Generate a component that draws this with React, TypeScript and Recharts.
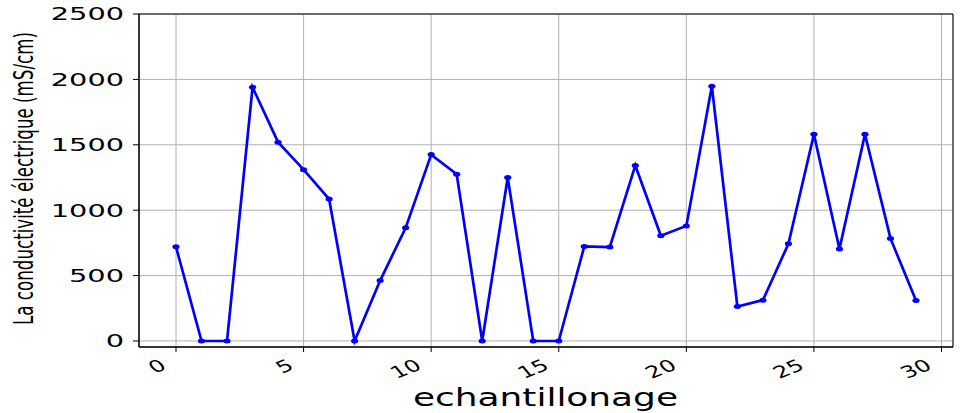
import { LineChart, Line, XAxis, YAxis, CartesianGrid, ReferenceArea } from 'recharts';

// sample index (x) and conductivity readings (y)
const samples = [0, 1, 2, 3, 4, 5, 6, 7, 8, 9, 10, 11, 12, 13, 14, 15, 16, 17, 18, 19, 20, 21, 22, 23, 24, 25, 26, 27, 28, 29];
const conductivity = [720, 0, 0, 1940, 1520, 1310, 1085, 0, 462, 865, 1425, 1275, 0, 1250, 0, 0, 723, 718, 1342, 804, 880, 1947, 264, 312, 743, 1581, 703, 1581, 784, 309];

const xTicks = [0, 5, 10, 15, 20, 25, 30];
const yTicks = [0, 500, 1000, 1500, 2000, 2500];

const data = samples.map((s, i) => ({ sample: s, value: conductivity[i] }));

const blue = '#0000ff';
const grid = '#b0b0b0';

const XTick = (props: any) => {
  const { x, y, payload } = props;
  return (
    <text
      transform={`translate(${x - 17},${y}) scale(1.46,1) rotate(-30)`}
      textAnchor="end"
      dy="0.73em"
      fontSize={16.5}
      fontFamily="DejaVu Sans"
      fill="#000"
    >
      {payload.value}
    </text>
  );
};

const YTick = (props: any) => {
  const { x, y, payload } = props;
  return (
    <text
      transform={`translate(${x},${y}) scale(1.6,1)`}
      textAnchor="end"
      dy="0.36em"
      fontSize={18}
      fontFamily="DejaVu Sans"
      fill="#000"
    >
      {payload.value}
    </text>
  );
};

const Dot = (props: any) => {
  const { cx, cy } = props;
  return <ellipse cx={cx} cy={cy} rx={3.6} ry={2.5} fill={blue} />;
};

export default function App() {
  return (
    <div style={{ position: 'absolute', left: 0, top: 0, width: 960, height: 413, background: '#fff' }}>
      <LineChart width={960} height={413} data={data} margin={{ top: 14, right: 7, left: 0, bottom: 0 }}>
        <CartesianGrid stroke={grid} strokeWidth={1} />
        <XAxis
          dataKey="sample"
          type="number"
          domain={[-1.45, 30.45]}
          ticks={xTicks}
          allowDataOverflow
          height={66}
          tickSize={5}
          tickMargin={6}
          stroke="#000"
          tick={<XTick />}
        />
        <YAxis
          type="number"
          domain={[-46, 2500]}
          ticks={yTicks}
          allowDataOverflow
          width={139}
          tickSize={6}
          tickMargin={9}
          stroke="#000"
          tick={<YTick />}
        />
        <Line
          type="linear"
          dataKey="value"
          stroke={blue}
          strokeWidth={2.7}
          dot={<Dot />}
          activeDot={false}
          isAnimationActive={false}
        />
        <ReferenceArea
          x1={-1.45}
          x2={30.45}
          y1={-46}
          y2={2500}
          fill="none"
          fillOpacity={0}
          stroke="#000"
          strokeWidth={1}
          ifOverflow="visible"
        />
      </LineChart>
      <svg width={960} height={413} style={{ position: 'absolute', left: 0, top: 0, pointerEvents: 'none' }}>
        <text
          transform="translate(33,178.5) scale(1.3,1) rotate(-90)"
          textAnchor="middle"
          fontSize={20}
          fontFamily="'Liberation Sans Narrow', 'DejaVu Sans Condensed', sans-serif"
          textLength={293}
          lengthAdjust="spacingAndGlyphs"
          fill="#000"
        >
          La conductivité électrique (mS/cm)
        </text>
        <text
          x={545.5}
          y={406}
          textAnchor="middle"
          fontSize={24}
          fontFamily="DejaVu Sans"
          textLength={265}
          lengthAdjust="spacingAndGlyphs"
          fill="#000"
        >
          echantillonage
        </text>
      </svg>
    </div>
  );
}
